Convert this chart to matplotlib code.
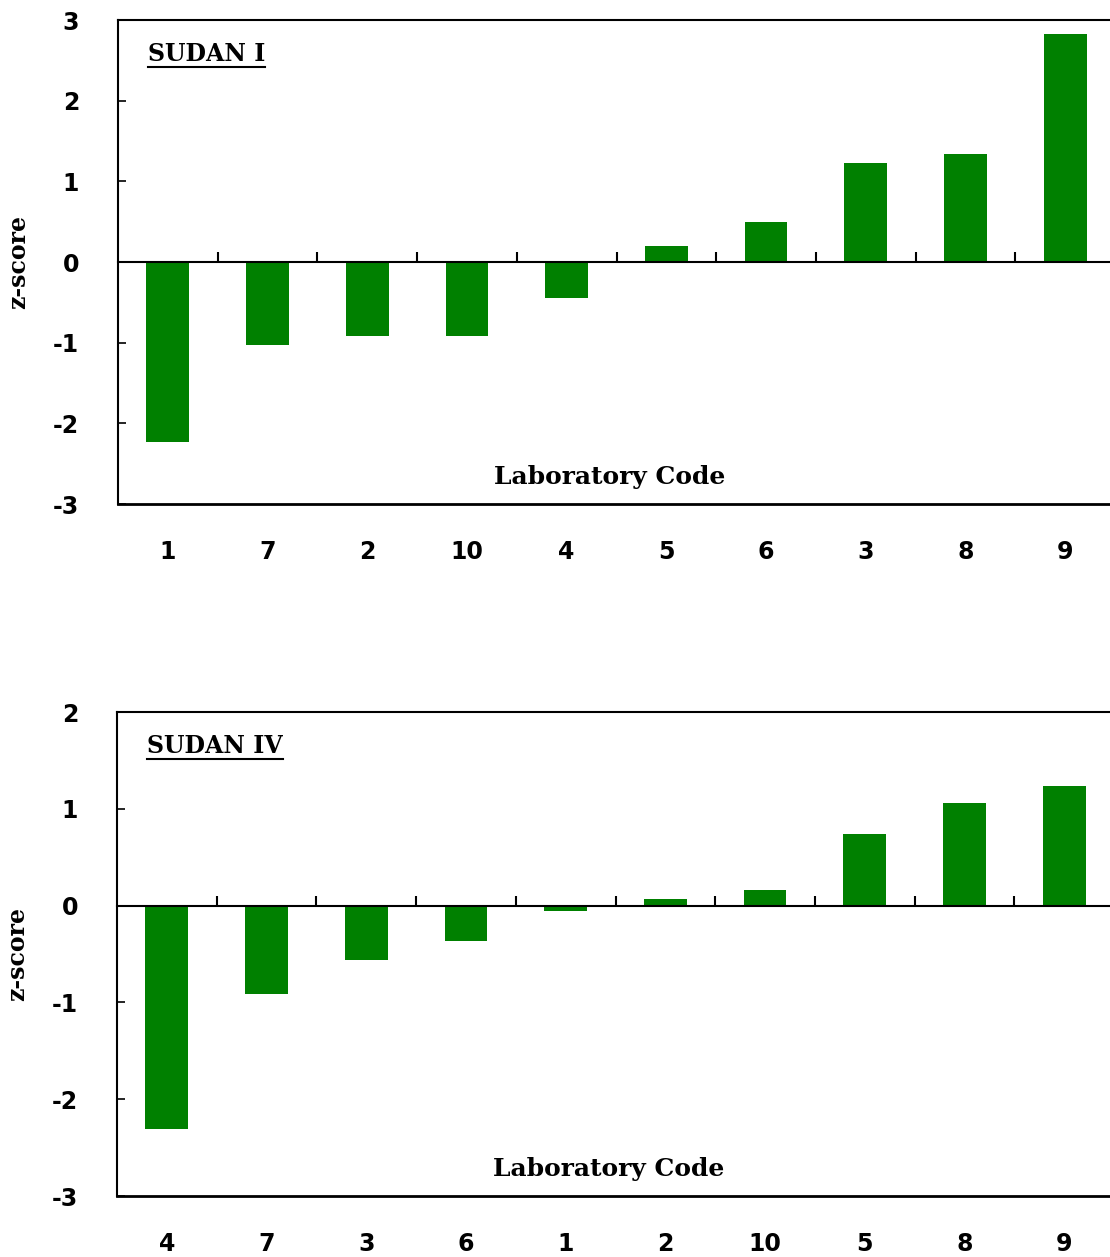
import numpy as np
import matplotlib
matplotlib.use("Agg")
import matplotlib.pyplot as plt
from matplotlib.lines import Line2D

plt.rcParams['axes.unicode_minus'] = False

# Sudan I
labs_1 = ['1', '7', '2', '10', '4', '5', '6', '3', '8', '9']
z_1 = [-2.23, -1.03, -0.92, -0.92, -0.45, 0.20, 0.50, 1.23, 1.34, 2.83]

# Sudan IV
labs_4 = ['4', '7', '3', '6', '1', '2', '10', '5', '8', '9']
z_4 = [-2.31, -0.91, -0.56, -0.37, -0.06, 0.07, 0.165, 0.74, 1.06, 1.24]

green = '#008000'
W, H = 1110, 1257
titles = []


def panel(rect, labs, z, ylim, title):
    ax = fig.add_axes(rect)
    x = np.arange(len(labs))
    ax.bar(x, z, width=0.43, color=green)
    ax.set_xlim(-0.5, len(labs) - 0.5)
    ax.set_ylim(*ylim)
    ax.set_yticks(range(ylim[0], ylim[1] + 1))
    ax.tick_params(axis='y', direction='in', length=6, width=1.2, pad=28,
                   labelsize=17)
    for t in ax.get_yticklabels():
        t.set_fontweight('bold')
        t.set_fontfamily('DejaVu Sans')

    # zero line with boundary ticks pointing up
    ax.spines['bottom'].set_position(('data', 0))
    ax.spines['bottom'].set_linewidth(1.5)
    ax.set_xticks(x[:-1] + 0.5)
    ax.tick_params(axis='x', direction='in', length=7, width=1.5,
                   labelbottom=False)
    ax.spines['right'].set_visible(False)
    for s in ['top', 'left']:
        ax.spines[s].set_linewidth(1.5)
    ax.axhline(ylim[0], color='black', lw=2, clip_on=False)

    # category labels below the box
    sec = ax.secondary_xaxis(0)
    sec.set_xticks(x)
    sec.set_xticklabels(labs)
    sec.tick_params(length=0, pad=26, labelsize=17)
    sec.spines['bottom'].set_visible(False)
    for t in sec.get_xticklabels():
        t.set_fontweight('bold')
        t.set_fontfamily('DejaVu Sans')

    tt = ax.text(0.03, 0.93, title, transform=ax.transAxes, fontsize=17,
                 fontweight='bold', family='DejaVu Serif',
                 va='center', ha='left')
    titles.append(tt)
    ax.text(0.493, 0.055, 'Laboratory Code', transform=ax.transAxes,
            fontsize=18, fontweight='bold', family='DejaVu Serif',
            ha='center', va='center')
    ax.set_ylabel('z-score', fontsize=17, fontweight='bold',
                  family='DejaVu Serif')
    ax.yaxis.set_label_coords(-88 / (rect[2] * W), 0.5)
    return ax


fig = plt.figure(figsize=(W / 100, H / 100), dpi=100)
panel([118 / W, 1 - 504 / H, 997 / W, 484 / H], labs_1, z_1, (-3, 3), 'SUDAN I')
panel([117 / W, 1 - 1196 / H, 997 / W, 484 / H], labs_4, z_4, (-3, 2), 'SUDAN IV')

# underline the panel titles
fig.canvas.draw()
r = fig.canvas.get_renderer()
for tt in titles:
    bb = tt.get_window_extent(r)
    y = bb.y0 - 1
    fig.add_artist(Line2D([bb.x0 / W, bb.x1 / W], [y / H, y / H],
                          color='black', lw=1.5, transform=fig.transFigure))

fig.savefig('out.png', dpi=100)
